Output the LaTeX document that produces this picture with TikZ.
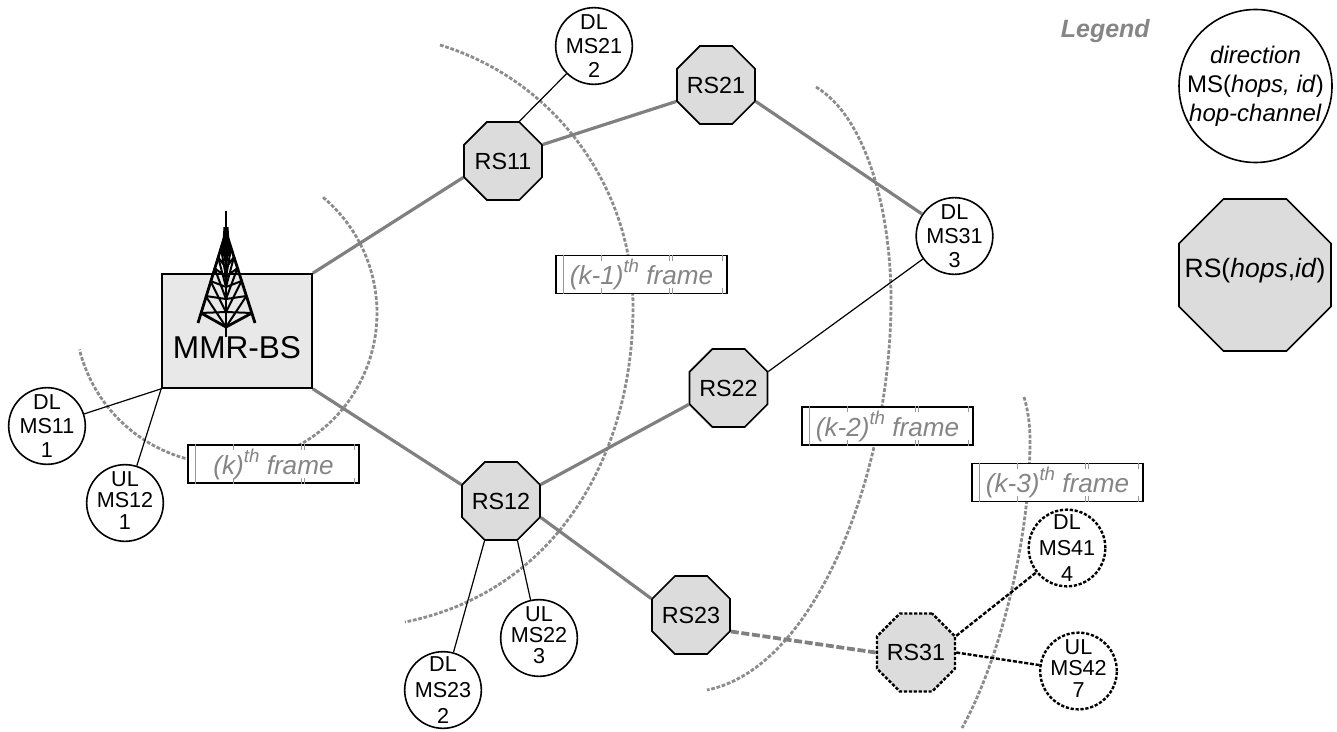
\documentclass[tikz,border=0pt]{standalone}
\usepackage{fontspec}
\setmainfont{Liberation Sans}
\usetikzlibrary{shapes.geometric}
\definecolor{linkgray}{HTML}{808080}
\definecolor{arcgray}{HTML}{8C8C8C}
\definecolor{tickgray}{HTML}{999999}
\definecolor{labelgray}{HTML}{858585}
\definecolor{rsfill}{HTML}{DCDCDC}
\definecolor{bsfill}{HTML}{E8E8E8}
\tikzset{
  ms/.style={circle,draw=black,line width=1.2pt,fill=white,minimum size=57.5pt,inner sep=0pt},
  mstext/.style={align=center,inner sep=0pt,font=\fontsize{16.2}{#1}\selectfont},
  mstext/.default=18,
  rs/.style={regular polygon,regular polygon sides=8,draw=black,line width=1.2pt,fill=rsfill,minimum size=63.3pt,inner sep=0pt},
  rstext/.style={inner sep=0pt,font=\fontsize{17.5}{20}\selectfont},
  dotborder/.style={line width=1.8pt,dash pattern=on 2.4pt off 1.3pt},
  thick link/.style={draw=linkgray,line width=2.4pt},
  thin link/.style={draw=black,line width=0.9pt},
  dot link/.style={draw=black,line width=1.8pt,dash pattern=on 3pt off 1.3pt},
  gray dash link/.style={draw=linkgray,line width=2.8pt,dash pattern=on 6pt off 2pt},
  arc/.style={draw=arcgray,line width=2.1pt,dash pattern=on 2.8pt off 1.3pt},
  framebox/.style={rectangle,draw=black,line width=1pt,fill=white,minimum width=128.25pt,minimum height=28.5pt,inner sep=0pt,text height=19.5pt,text depth=4.5pt,text=labelgray,font=\fontsize{19.6}{22}\selectfont\itshape},
  tick/.style={draw=tickgray,line width=0.8pt}
}
\newcommand{\thsup}{\raisebox{0.45em}{\fontsize{14}{16}\selectfont th}}
\newcommand{\frameticks}[1]{%
  \draw[tick] ([xshift=6pt]#1.south west) -- ([xshift=6pt]#1.north west);
  \foreach \d in {34.5,85.5,88,125.25}{
    \draw[tick] ([xshift=\d pt]#1.north west) -- ++(0,6);
    \draw[tick] ([xshift=\d pt]#1.south west) -- ++(0,-6);
  }%
}
\begin{document}
\begin{tikzpicture}[x=0.75pt,y=-0.75pt,line join=miter]
\useasboundingbox (0,0) rectangle (1337,731);
% range arcs
\draw[arc] plot[domain=-50:166,samples=120] ({226+151*cos(\x)},{313+151*sin(\x)});
\draw[arc] (440,45) .. controls (555,80) and (633,187) .. (633,307) .. controls (633,457) and (555,592) .. (405,622);
\draw[arc] (816,87) .. controls (866,117) and (891,210) .. (891,300) .. controls (891,470) and (817,668) .. (707,690);
\draw[arc] (1024,397) .. controls (1028,410) and (1030,425) .. (1030,440) .. controls (1030,540) and (1000,660) .. (962,728);
% nodes
\node[rectangle,draw=black,line width=1.2pt,fill=bsfill,minimum width=112.5pt,minimum height=85.5pt,inner sep=0pt,
  label={[inner sep=0pt,yshift=-12.5pt,font=\fontsize{23.7}{26}\selectfont]center:MMR-BS}] (bs) at (237,331) {};
\node[rs,label={[rstext]center:RS11}] (rs11) at (503,161) {};
\node[rs,label={[rstext]center:RS12}] (rs12) at (501,501) {};
\node[rs,label={[rstext]center:RS21}] (rs21) at (716,85) {};
\node[rs,label={[rstext]center:RS22}] (rs22) at (728.5,388) {};
\node[rs,label={[rstext]center:RS23}] (rs23) at (691,615) {};
\node[rs,dotborder,label={[rstext]center:RS31}] (rs31) at (916,652.5) {};
\node[ms,label={[mstext]center:DL\\MS21\\2}] (ms21) at (594,46) {};
\node[ms,label={[mstext]center:DL\\MS31\\3}] (ms31) at (954.5,236) {};
\node[ms,label={[mstext]center:DL\\MS11\\1}] (ms11) at (47,426) {};
\node[ms,label={[mstext=16,yshift=2pt]center:UL\\MS12\\1}] (ms12) at (125,503) {};
\node[ms,label={[mstext=16,yshift=2pt]center:UL\\MS22\\3}] (ms22) at (539,638) {};
\node[ms,label={[mstext=19.5]center:DL\\MS23\\2}] (ms23) at (443,690) {};
\node[ms,dotborder,label={[mstext=19.5]center:DL\\MS41\\4}] (ms41) at (1067,548) {};
\node[ms,dotborder,label={[mstext=16,yshift=2pt]center:UL\\MS42\\7}] (ms42) at (1078.5,671) {};
% connectors
\draw[thick link] (bs.north east) -- (rs11.corner 4);
\draw[thick link] (bs.south east) -- (rs12.corner 3);
\draw[thick link] (rs11.corner 8) -- (rs21.corner 4);
\draw[thick link] (rs21.corner 7) -- (ms31);
\draw[thick link] (rs12.corner 8) -- (rs22.corner 4);
\draw[thick link] (rs12.corner 7) -- (rs23.corner 3);
\draw[gray dash link] (rs23.corner 7) -- (rs31.west);
\draw[thin link] (rs11.corner 1) -- (ms21);
\draw[thin link] (rs22.corner 8) -- (ms31);
\draw[thin link] (rs12.corner 5) -- (ms23);
\draw[thin link] (rs12.corner 6) -- (ms22);
\draw[thin link] (bs.south west) -- (ms11);
\draw[thin link] (bs.south west) -- (ms12);
\draw[dot link] (rs31.corner 8) -- (ms41);
\draw[dot link] (rs31.east) -- (ms42);
% tower
\begin{scope}[line cap=butt]
  \draw[black,line width=2pt] (226,211) -- (226,337);
  \fill[black] (223.5,227) -- (228.5,227) -- (230,250) -- (222,250) -- cycle;
  \draw[black,line width=2.1pt] (198,323) -- (226,232) -- (255,323);
  \draw[black,line width=2.1pt] (201,313) -- (226,327) -- (252,313);
  \foreach \a/\b/\c/\d in {
    313/327/296/312,
    296/312/281/299,
    281/299/268/287,
    268/287/257/277,
    257/277/248/268,
    248/268/241/260}{
    \pgfmathsetmacro{\wa}{29*(\a-232)/91}
    \pgfmathsetmacro{\wc}{29*(\c-232)/91}
    \draw[black,line width=1.5pt] (226-\wa,\a) -- (226,\d) (226,\b) -- (226-\wc,\c);
    \draw[black,line width=1.5pt] (226+\wa,\a) -- (226,\d) (226,\b) -- (226+\wc,\c);
  }
\end{scope}
% frame labels
\node[framebox] (fk) at (273.5,464) {(k)\thsup{} frame};
\frameticks{fk}
\node[framebox] (fk1) at (641.5,274.5) {(k-1)\thsup{} frame};
\frameticks{fk1}
\node[framebox] (fk2) at (887.5,426) {(k-2)\thsup{} frame};
\frameticks{fk2}
\node[framebox] (fk3) at (1057.5,482.5) {(k-3)\thsup{} frame};
\frameticks{fk3}
% legend
\node[anchor=base east,inner sep=0pt,text=labelgray,font=\fontsize{18.75}{21}\selectfont\bfseries\itshape] (legend) at (1150,38) {Legend};
\node[ms,minimum size=114.75pt,label={[align=center,inner sep=0pt,font=\fontsize{18}{21.75}\selectfont]center:\textit{direction}\\MS(\textit{hops, id})\\\textit{hop-channel}}] (legms) at (1255.5,86) {};
\node[rs,minimum size=123.4pt,label={[inner sep=0pt,yshift=3pt,font=\fontsize{19.9}{22}\selectfont]center:RS(\textit{hops},\textit{id})}] (legrs) at (1255,275) {};
\end{tikzpicture}
\end{document}
